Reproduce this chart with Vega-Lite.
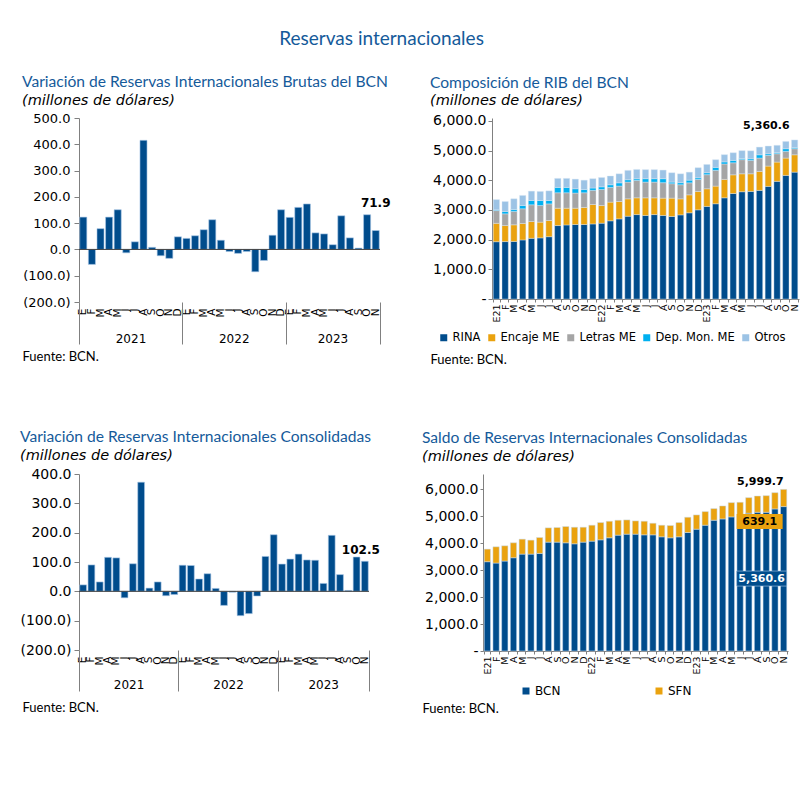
{
 "$schema": "https://vega.github.io/schema/vega-lite/v6.json",
 "background": "white",
 "padding": {"left": 19, "top": 29, "right": 5, "bottom": 5},
 "title": {"text": "Reservas internacionales", "anchor": "middle", "fontSize": 19, "offset": 26, "dx": -28, "color": "#155A9A", "font": "Lato", "fontWeight": "normal"},
 "config": {
  "view": {"stroke": null},
  "axis": {"grid": false, "domainColor": "#808080", "tickColor": "#808080", "labelColor": "#000000", "labelFont": "DejaVu Sans"},
  "legend": {"labelFont": "DejaVu Sans", "labelColor": "#000000"},
  "title": {"font": "Lato", "color": "#155A9A", "fontWeight": "normal", "anchor": "start", "fontSize": 15.6, "subtitleFont": "DejaVu Sans", "subtitleFontStyle": "italic", "subtitleColor": "#000000", "subtitleFontSize": 14.5, "subtitlePadding": 3, "offset": 10},
  "text": {"font": "DejaVu Sans"}
 },
 "datasets": {
  "brutas": [
   {"mes":"2021-01","valor":123},{"mes":"2021-02","valor":-57},{"mes":"2021-03","valor":79},{"mes":"2021-04","valor":123},{"mes":"2021-05","valor":151},{"mes":"2021-06","valor":-13},{"mes":"2021-07","valor":29},{"mes":"2021-08","valor":415},{"mes":"2021-09","valor":8},{"mes":"2021-10","valor":-24},{"mes":"2021-11","valor":-34},{"mes":"2021-12","valor":48},
   {"mes":"2022-01","valor":42},{"mes":"2022-02","valor":52},{"mes":"2022-03","valor":75},{"mes":"2022-04","valor":113},{"mes":"2022-05","valor":35},{"mes":"2022-06","valor":-8},{"mes":"2022-07","valor":-15},{"mes":"2022-08","valor":-8},{"mes":"2022-09","valor":-85},{"mes":"2022-10","valor":-42},{"mes":"2022-11","valor":54},{"mes":"2022-12","valor":151},
   {"mes":"2023-01","valor":122},{"mes":"2023-02","valor":160},{"mes":"2023-03","valor":173},{"mes":"2023-04","valor":63},{"mes":"2023-05","valor":59},{"mes":"2023-06","valor":18},{"mes":"2023-07","valor":128},{"mes":"2023-08","valor":44},{"mes":"2023-09","valor":5},{"mes":"2023-10","valor":132},{"mes":"2023-11","valor":71.9}
  ],
  "consolidadas": [
   {"mes":"2021-01","valor":22},{"mes":"2021-02","valor":90},{"mes":"2021-03","valor":32},{"mes":"2021-04","valor":116},{"mes":"2021-05","valor":114},{"mes":"2021-06","valor":-22},{"mes":"2021-07","valor":94},{"mes":"2021-08","valor":372},{"mes":"2021-09","valor":11},{"mes":"2021-10","valor":32},{"mes":"2021-11","valor":-15},{"mes":"2021-12","valor":-11},
   {"mes":"2022-01","valor":89},{"mes":"2022-02","valor":88},{"mes":"2022-03","valor":42},{"mes":"2022-04","valor":60},{"mes":"2022-05","valor":10},{"mes":"2022-06","valor":-48},{"mes":"2022-07","valor":-3},{"mes":"2022-08","valor":-83},{"mes":"2022-09","valor":-76},{"mes":"2022-10","valor":-16},{"mes":"2022-11","valor":119},{"mes":"2022-12","valor":193},
   {"mes":"2023-01","valor":93},{"mes":"2023-02","valor":110},{"mes":"2023-03","valor":127},{"mes":"2023-04","valor":107},{"mes":"2023-05","valor":106},{"mes":"2023-06","valor":27},{"mes":"2023-07","valor":191},{"mes":"2023-08","valor":57},{"mes":"2023-09","valor":3},{"mes":"2023-10","valor":117},{"mes":"2023-11","valor":102.5}
  ],
  "rib": [
   {"mes":"2021-01","componente":"RINA","valor":1930,"orden":1},{"mes":"2021-01","componente":"Encaje ME","valor":620,"orden":2},{"mes":"2021-01","componente":"Letras ME","valor":430,"orden":3},{"mes":"2021-01","componente":"Dep. Mon. ME","valor":25,"orden":4},{"mes":"2021-01","componente":"Otros","valor":345,"orden":5},
   {"mes":"2021-02","componente":"RINA","valor":1935,"orden":1},{"mes":"2021-02","componente":"Encaje ME","valor":540,"orden":2},{"mes":"2021-02","componente":"Letras ME","valor":395,"orden":3},{"mes":"2021-02","componente":"Dep. Mon. ME","valor":80,"orden":4},{"mes":"2021-02","componente":"Otros","valor":335,"orden":5},
   {"mes":"2021-03","componente":"RINA","valor":1940,"orden":1},{"mes":"2021-03","componente":"Encaje ME","valor":560,"orden":2},{"mes":"2021-03","componente":"Letras ME","valor":450,"orden":3},{"mes":"2021-03","componente":"Dep. Mon. ME","valor":65,"orden":4},{"mes":"2021-03","componente":"Otros","valor":360,"orden":5},
   {"mes":"2021-04","componente":"RINA","valor":1990,"orden":1},{"mes":"2021-04","componente":"Encaje ME","valor":555,"orden":2},{"mes":"2021-04","componente":"Letras ME","valor":495,"orden":3},{"mes":"2021-04","componente":"Dep. Mon. ME","valor":110,"orden":4},{"mes":"2021-04","componente":"Otros","valor":340,"orden":5},
   {"mes":"2021-05","componente":"RINA","valor":2045,"orden":1},{"mes":"2021-05","componente":"Encaje ME","valor":565,"orden":2},{"mes":"2021-05","componente":"Letras ME","valor":565,"orden":3},{"mes":"2021-05","componente":"Dep. Mon. ME","valor":145,"orden":4},{"mes":"2021-05","componente":"Otros","valor":315,"orden":5},
   {"mes":"2021-06","componente":"RINA","valor":2060,"orden":1},{"mes":"2021-06","componente":"Encaje ME","valor":530,"orden":2},{"mes":"2021-06","componente":"Letras ME","valor":560,"orden":3},{"mes":"2021-06","componente":"Dep. Mon. ME","valor":170,"orden":4},{"mes":"2021-06","componente":"Otros","valor":305,"orden":5},
   {"mes":"2021-07","componente":"RINA","valor":2100,"orden":1},{"mes":"2021-07","componente":"Encaje ME","valor":545,"orden":2},{"mes":"2021-07","componente":"Letras ME","valor":560,"orden":3},{"mes":"2021-07","componente":"Dep. Mon. ME","valor":115,"orden":4},{"mes":"2021-07","componente":"Otros","valor":325,"orden":5},
   {"mes":"2021-08","componente":"RINA","valor":2475,"orden":1},{"mes":"2021-08","componente":"Encaje ME","valor":585,"orden":2},{"mes":"2021-08","componente":"Letras ME","valor":520,"orden":3},{"mes":"2021-08","componente":"Dep. Mon. ME","valor":180,"orden":4},{"mes":"2021-08","componente":"Otros","valor":305,"orden":5},
   {"mes":"2021-09","componente":"RINA","valor":2495,"orden":1},{"mes":"2021-09","componente":"Encaje ME","valor":565,"orden":2},{"mes":"2021-09","componente":"Letras ME","valor":520,"orden":3},{"mes":"2021-09","componente":"Dep. Mon. ME","valor":180,"orden":4},{"mes":"2021-09","componente":"Otros","valor":305,"orden":5},
   {"mes":"2021-10","componente":"RINA","valor":2510,"orden":1},{"mes":"2021-10","componente":"Encaje ME","valor":550,"orden":2},{"mes":"2021-10","componente":"Letras ME","valor":510,"orden":3},{"mes":"2021-10","componente":"Dep. Mon. ME","valor":145,"orden":4},{"mes":"2021-10","componente":"Otros","valor":325,"orden":5},
   {"mes":"2021-11","componente":"RINA","valor":2510,"orden":1},{"mes":"2021-11","componente":"Encaje ME","valor":575,"orden":2},{"mes":"2021-11","componente":"Letras ME","valor":495,"orden":3},{"mes":"2021-11","componente":"Dep. Mon. ME","valor":110,"orden":4},{"mes":"2021-11","componente":"Otros","valor":315,"orden":5},
   {"mes":"2021-12","componente":"RINA","valor":2530,"orden":1},{"mes":"2021-12","componente":"Encaje ME","valor":655,"orden":2},{"mes":"2021-12","componente":"Letras ME","valor":475,"orden":3},{"mes":"2021-12","componente":"Dep. Mon. ME","valor":80,"orden":4},{"mes":"2021-12","componente":"Otros","valor":315,"orden":5},
   {"mes":"2022-01","componente":"RINA","valor":2555,"orden":1},{"mes":"2022-01","componente":"Encaje ME","valor":595,"orden":2},{"mes":"2022-01","componente":"Letras ME","valor":540,"orden":3},{"mes":"2022-01","componente":"Dep. Mon. ME","valor":90,"orden":4},{"mes":"2022-01","componente":"Otros","valor":315,"orden":5},
   {"mes":"2022-02","componente":"RINA","valor":2635,"orden":1},{"mes":"2022-02","componente":"Encaje ME","valor":630,"orden":2},{"mes":"2022-02","componente":"Letras ME","valor":495,"orden":3},{"mes":"2022-02","componente":"Dep. Mon. ME","valor":90,"orden":4},{"mes":"2022-02","componente":"Otros","valor":295,"orden":5},
   {"mes":"2022-03","componente":"RINA","valor":2700,"orden":1},{"mes":"2022-03","componente":"Encaje ME","valor":585,"orden":2},{"mes":"2022-03","componente":"Letras ME","valor":520,"orden":3},{"mes":"2022-03","componente":"Dep. Mon. ME","valor":110,"orden":4},{"mes":"2022-03","componente":"Otros","valor":305,"orden":5},
   {"mes":"2022-04","componente":"RINA","valor":2790,"orden":1},{"mes":"2022-04","componente":"Encaje ME","valor":585,"orden":2},{"mes":"2022-04","componente":"Letras ME","valor":565,"orden":3},{"mes":"2022-04","componente":"Dep. Mon. ME","valor":80,"orden":4},{"mes":"2022-04","componente":"Otros","valor":315,"orden":5},
   {"mes":"2022-05","componente":"RINA","valor":2845,"orden":1},{"mes":"2022-05","componente":"Encaje ME","valor":565,"orden":2},{"mes":"2022-05","componente":"Letras ME","valor":585,"orden":3},{"mes":"2022-05","componente":"Dep. Mon. ME","valor":55,"orden":4},{"mes":"2022-05","componente":"Otros","valor":315,"orden":5},
   {"mes":"2022-06","componente":"RINA","valor":2815,"orden":1},{"mes":"2022-06","componente":"Encaje ME","valor":595,"orden":2},{"mes":"2022-06","componente":"Letras ME","valor":530,"orden":3},{"mes":"2022-06","componente":"Dep. Mon. ME","valor":115,"orden":4},{"mes":"2022-06","componente":"Otros","valor":305,"orden":5},
   {"mes":"2022-07","componente":"RINA","valor":2845,"orden":1},{"mes":"2022-07","componente":"Encaje ME","valor":565,"orden":2},{"mes":"2022-07","componente":"Letras ME","valor":530,"orden":3},{"mes":"2022-07","componente":"Dep. Mon. ME","valor":115,"orden":4},{"mes":"2022-07","componente":"Otros","valor":305,"orden":5},
   {"mes":"2022-08","componente":"RINA","valor":2815,"orden":1},{"mes":"2022-08","componente":"Encaje ME","valor":585,"orden":2},{"mes":"2022-08","componente":"Letras ME","valor":520,"orden":3},{"mes":"2022-08","componente":"Dep. Mon. ME","valor":135,"orden":4},{"mes":"2022-08","componente":"Otros","valor":290,"orden":5},
   {"mes":"2022-09","componente":"RINA","valor":2780,"orden":1},{"mes":"2022-09","componente":"Encaje ME","valor":620,"orden":2},{"mes":"2022-09","componente":"Letras ME","valor":485,"orden":3},{"mes":"2022-09","componente":"Dep. Mon. ME","valor":55,"orden":4},{"mes":"2022-09","componente":"Otros","valor":315,"orden":5},
   {"mes":"2022-10","componente":"RINA","valor":2835,"orden":1},{"mes":"2022-10","componente":"Encaje ME","valor":540,"orden":2},{"mes":"2022-10","componente":"Letras ME","valor":475,"orden":3},{"mes":"2022-10","componente":"Dep. Mon. ME","valor":70,"orden":4},{"mes":"2022-10","componente":"Otros","valor":300,"orden":5},
   {"mes":"2022-11","componente":"RINA","valor":2905,"orden":1},{"mes":"2022-11","componente":"Encaje ME","valor":605,"orden":2},{"mes":"2022-11","componente":"Letras ME","valor":405,"orden":3},{"mes":"2022-11","componente":"Dep. Mon. ME","valor":90,"orden":4},{"mes":"2022-11","componente":"Otros","valor":270,"orden":5},
   {"mes":"2022-12","componente":"RINA","valor":3005,"orden":1},{"mes":"2022-12","componente":"Encaje ME","valor":620,"orden":2},{"mes":"2022-12","componente":"Letras ME","valor":405,"orden":3},{"mes":"2022-12","componente":"Dep. Mon. ME","valor":55,"orden":4},{"mes":"2022-12","componente":"Otros","valor":340,"orden":5},
   {"mes":"2023-01","componente":"RINA","valor":3120,"orden":1},{"mes":"2023-01","componente":"Encaje ME","valor":595,"orden":2},{"mes":"2023-01","componente":"Letras ME","valor":475,"orden":3},{"mes":"2023-01","componente":"Dep. Mon. ME","valor":65,"orden":4},{"mes":"2023-01","componente":"Otros","valor":280,"orden":5},
   {"mes":"2023-02","componente":"RINA","valor":3210,"orden":1},{"mes":"2023-02","componente":"Encaje ME","valor":595,"orden":2},{"mes":"2023-02","componente":"Letras ME","valor":530,"orden":3},{"mes":"2023-02","componente":"Dep. Mon. ME","valor":100,"orden":4},{"mes":"2023-02","componente":"Otros","valor":260,"orden":5},
   {"mes":"2023-03","componente":"RINA","valor":3410,"orden":1},{"mes":"2023-03","componente":"Encaje ME","valor":620,"orden":2},{"mes":"2023-03","componente":"Letras ME","valor":520,"orden":3},{"mes":"2023-03","componente":"Dep. Mon. ME","valor":70,"orden":4},{"mes":"2023-03","componente":"Otros","valor":245,"orden":5},
   {"mes":"2023-04","componente":"RINA","valor":3555,"orden":1},{"mes":"2023-04","componente":"Encaje ME","valor":630,"orden":2},{"mes":"2023-04","componente":"Letras ME","valor":405,"orden":3},{"mes":"2023-04","componente":"Dep. Mon. ME","valor":80,"orden":4},{"mes":"2023-04","componente":"Otros","valor":260,"orden":5},
   {"mes":"2023-05","componente":"RINA","valor":3615,"orden":1},{"mes":"2023-05","componente":"Encaje ME","valor":605,"orden":2},{"mes":"2023-05","componente":"Letras ME","valor":475,"orden":3},{"mes":"2023-05","componente":"Dep. Mon. ME","valor":35,"orden":4},{"mes":"2023-05","componente":"Otros","valor":270,"orden":5},
   {"mes":"2023-06","componente":"RINA","valor":3625,"orden":1},{"mes":"2023-06","componente":"Encaje ME","valor":595,"orden":2},{"mes":"2023-06","componente":"Letras ME","valor":450,"orden":3},{"mes":"2023-06","componente":"Dep. Mon. ME","valor":55,"orden":4},{"mes":"2023-06","componente":"Otros","valor":270,"orden":5},
   {"mes":"2023-07","componente":"RINA","valor":3660,"orden":1},{"mes":"2023-07","componente":"Encaje ME","valor":640,"orden":2},{"mes":"2023-07","componente":"Letras ME","valor":450,"orden":3},{"mes":"2023-07","componente":"Dep. Mon. ME","valor":110,"orden":4},{"mes":"2023-07","componente":"Otros","valor":260,"orden":5},
   {"mes":"2023-08","componente":"RINA","valor":3795,"orden":1},{"mes":"2023-08","componente":"Encaje ME","valor":685,"orden":2},{"mes":"2023-08","componente":"Letras ME","valor":360,"orden":3},{"mes":"2023-08","componente":"Dep. Mon. ME","valor":55,"orden":4},{"mes":"2023-08","componente":"Otros","valor":260,"orden":5},
   {"mes":"2023-09","componente":"RINA","valor":3965,"orden":1},{"mes":"2023-09","componente":"Encaje ME","valor":650,"orden":2},{"mes":"2023-09","componente":"Letras ME","valor":280,"orden":3},{"mes":"2023-09","componente":"Dep. Mon. ME","valor":35,"orden":4},{"mes":"2023-09","componente":"Otros","valor":250,"orden":5},
   {"mes":"2023-10","componente":"RINA","valor":4165,"orden":1},{"mes":"2023-10","componente":"Encaje ME","valor":585,"orden":2},{"mes":"2023-10","componente":"Letras ME","valor":225,"orden":3},{"mes":"2023-10","componente":"Dep. Mon. ME","valor":90,"orden":4},{"mes":"2023-10","componente":"Otros","valor":245,"orden":5},
   {"mes":"2023-11","componente":"RINA","valor":4275,"orden":1},{"mes":"2023-11","componente":"Encaje ME","valor":585,"orden":2},{"mes":"2023-11","componente":"Letras ME","valor":205,"orden":3},{"mes":"2023-11","componente":"Dep. Mon. ME","valor":35,"orden":4},{"mes":"2023-11","componente":"Otros","valor":260.6,"orden":5}
  ],
  "saldo": [
   {"mes":"2021-01","serie":"BCN","valor":3314},{"mes":"2021-01","serie":"SFN","valor":468},
   {"mes":"2021-02","serie":"BCN","valor":3265},{"mes":"2021-02","serie":"SFN","valor":603},
   {"mes":"2021-03","serie":"BCN","valor":3339},{"mes":"2021-03","serie":"SFN","valor":566},
   {"mes":"2021-04","serie":"BCN","valor":3462},{"mes":"2021-04","serie":"SFN","valor":554},
   {"mes":"2021-05","serie":"BCN","valor":3597},{"mes":"2021-05","serie":"SFN","valor":555},
   {"mes":"2021-06","serie":"BCN","valor":3597},{"mes":"2021-06","serie":"SFN","valor":518},
   {"mes":"2021-07","serie":"BCN","valor":3622},{"mes":"2021-07","serie":"SFN","valor":591},
   {"mes":"2021-08","serie":"BCN","valor":4041},{"mes":"2021-08","serie":"SFN","valor":530},
   {"mes":"2021-09","serie":"BCN","valor":4041},{"mes":"2021-09","serie":"SFN","valor":542},
   {"mes":"2021-10","serie":"BCN","valor":4016},{"mes":"2021-10","serie":"SFN","valor":604},
   {"mes":"2021-11","serie":"BCN","valor":3979},{"mes":"2021-11","serie":"SFN","valor":616},
   {"mes":"2021-12","serie":"BCN","valor":4041},{"mes":"2021-12","serie":"SFN","valor":554},
   {"mes":"2022-01","serie":"BCN","valor":4078},{"mes":"2022-01","serie":"SFN","valor":591},
   {"mes":"2022-02","serie":"BCN","valor":4127},{"mes":"2022-02","serie":"SFN","valor":641},
   {"mes":"2022-03","serie":"BCN","valor":4201},{"mes":"2022-03","serie":"SFN","valor":616},
   {"mes":"2022-04","serie":"BCN","valor":4300},{"mes":"2022-04","serie":"SFN","valor":554},
   {"mes":"2022-05","serie":"BCN","valor":4337},{"mes":"2022-05","serie":"SFN","valor":529},
   {"mes":"2022-06","serie":"BCN","valor":4337},{"mes":"2022-06","serie":"SFN","valor":492},
   {"mes":"2022-07","serie":"BCN","valor":4312},{"mes":"2022-07","serie":"SFN","valor":505},
   {"mes":"2022-08","serie":"BCN","valor":4312},{"mes":"2022-08","serie":"SFN","valor":431},
   {"mes":"2022-09","serie":"BCN","valor":4238},{"mes":"2022-09","serie":"SFN","valor":431},
   {"mes":"2022-10","serie":"BCN","valor":4201},{"mes":"2022-10","serie":"SFN","valor":456},
   {"mes":"2022-11","serie":"BCN","valor":4238},{"mes":"2022-11","serie":"SFN","valor":530},
   {"mes":"2022-12","serie":"BCN","valor":4398},{"mes":"2022-12","serie":"SFN","valor":567},
   {"mes":"2023-01","serie":"BCN","valor":4521},{"mes":"2023-01","serie":"SFN","valor":530},
   {"mes":"2023-02","serie":"BCN","valor":4669},{"mes":"2023-02","serie":"SFN","valor":505},
   {"mes":"2023-03","serie":"BCN","valor":4854},{"mes":"2023-03","serie":"SFN","valor":431},
   {"mes":"2023-04","serie":"BCN","valor":4903},{"mes":"2023-04","serie":"SFN","valor":481},
   {"mes":"2023-05","serie":"BCN","valor":4977},{"mes":"2023-05","serie":"SFN","valor":530},
   {"mes":"2023-06","serie":"BCN","valor":4998},{"mes":"2023-06","serie":"SFN","valor":521},
   {"mes":"2023-07","serie":"BCN","valor":5113},{"mes":"2023-07","serie":"SFN","valor":579},
   {"mes":"2023-08","serie":"BCN","valor":5150},{"mes":"2023-08","serie":"SFN","valor":603},
   {"mes":"2023-09","serie":"BCN","valor":5150},{"mes":"2023-09","serie":"SFN","valor":616},
   {"mes":"2023-10","serie":"BCN","valor":5273},{"mes":"2023-10","serie":"SFN","valor":604},
   {"mes":"2023-11","serie":"BCN","valor":5360.6},{"mes":"2023-11","serie":"SFN","valor":639.1}
  ]
 },
 "bounds": "flush",
 "spacing": 356,
 "resolve": {"scale": {"color": "independent"}, "legend": {"color": "independent"}},
 "vconcat": [
  {
   "bounds": "flush",
   "spacing": 112,
   "resolve": {"scale": {"color": "independent"}, "legend": {"color": "independent"}},
   "hconcat": [
    {
     "title": {"text": "Variación de Reservas Internacionales Brutas del BCN", "subtitle": "(millones de dólares)", "offset": 5},
     "width": 301,
     "height": 184,
     "data": {"name": "brutas"},
     "layer": [
      {
       "layer": [
        {
         "mark": {"type": "bar", "color": "#004C8C", "stroke": "#A9C8E8", "strokeWidth": 0.6},
         "encoding": {
          "x": {"field": "mes", "type": "ordinal", "title": null, "scale": {"paddingInner": 0.18, "paddingOuter": 0.09},
                "axis": {"labelExpr": "['E','F','M','A','M','J','J','A','S','O','N','D'][toNumber(substring(datum.value,5,7))-1]", "labelAngle": 270, "labelFontSize": 10.5, "labelPadding": 6, "ticks": false, "domain": false, "labelOverlap": false}},
          "y": {"field": "valor", "type": "quantitative", "title": null, "scale": {"domain": [-200, 500], "nice": false},
                "axis": {"values": [-200, -100, 0, 100, 200, 300, 400, 500], "tickCount": 20, "labelExpr": "datum.value < 0 ? format(datum.value, '(,.1f') : format(datum.value, ',.1f') + '\u00a0'", "labelFontSize": 13, "tickSize": 5, "labelPadding": 4, "labelOverlap": false}}
         }
        },
        {
         "data": {"values": [{}]},
         "mark": {"type": "rule", "color": "#404040", "strokeWidth": 1},
         "encoding": {"y": {"datum": 0}}
        },
        {
         "transform": [{"filter": "datum.mes == '2023-11'"}],
         "mark": {"type": "text", "dy": -28, "fontWeight": "bold", "fontSize": 12, "baseline": "middle"},
         "encoding": {
          "x": {"field": "mes", "type": "ordinal"},
          "y": {"field": "valor", "type": "quantitative", "title": null},
          "text": {"field": "valor", "type": "quantitative", "format": ",.1f"}
         }
        }
       ]
      },
      {
       "data": {"values": [{"fecha": "2021-01-01"}, {"fecha": "2023-12-01"}]},
       "mark": {"type": "point", "opacity": 0},
       "encoding": {
        "x": {"field": "fecha", "type": "temporal", "title": "Fuente: BCN.",
              "scale": {"domain": [{"year": 2021, "month": 1, "date": 1, "utc": true}, {"year": 2023, "month": 12, "date": 1, "utc": true}], "nice": false},
              "axis": {"orient": "bottom", "tickCount": 20,
                       "values": [{"year": 2021, "month": 1, "date": 1, "utc": true}, {"year": 2021, "month": 7, "date": 2, "utc": true}, {"year": 2022, "month": 1, "date": 1, "utc": true}, {"year": 2022, "month": 7, "date": 2, "utc": true}, {"year": 2023, "month": 1, "date": 1, "utc": true}, {"year": 2023, "month": 6, "date": 16, "utc": true}, {"year": 2023, "month": 12, "date": 1, "utc": true}],
                       "labelExpr": "(utcmonth(datum.value) == 0 || utcmonth(datum.value) == 11) ? '' : utcFormat(datum.value, '%Y')",
                       "tickSize": 42,
                       "tickOpacity": {"condition": {"test": "utcmonth(datum.value) == 0 || utcmonth(datum.value) == 11", "value": 1}, "value": 0},
                       "domain": false, "labelPadding": -11, "labelFontSize": 12, "labelOverlap": false, "labelFlush": false, "labelBound": false,
                       "titleX": -57, "titleY": 54, "titleAlign": "left", "titleBaseline": "middle", "titleFont": "Lato", "titleFontSize": 13, "titleFontWeight": "normal", "titleColor": "#000000"}}
       }
      }
     ],
     "resolve": {"scale": {"x": "independent"}, "axis": {"x": "independent"}}
    },
    {
     "title": {"text": "Composición de RIB del BCN", "subtitle": "(millones de dólares)", "offset": 6},
     "width": 307,
     "height": 181,
     "data": {"name": "rib"},
     "layer": [
      {
       "mark": {"type": "bar", "stroke": "#DCE8F4", "strokeWidth": 0.4},
       "encoding": {
        "x": {"field": "mes", "type": "ordinal", "title": "Fuente: BCN.", "scale": {"paddingInner": 0.28, "paddingOuter": 0.14},
              "axis": {"labelExpr": "substring(datum.value,5,7) == '01' ? 'E' + substring(datum.value,2,4) : ['E','F','M','A','M','J','J','A','S','O','N','D'][toNumber(substring(datum.value,5,7))-1]",
                       "labelAngle": 270, "labelFontSize": 9.5, "labelPadding": 2, "tickBand": "extent", "tickSize": 3, "labelOverlap": false,
                       "titleX": -62, "titleY": 60, "titleAlign": "left", "titleBaseline": "middle", "titleFont": "Lato", "titleFontSize": 13, "titleFontWeight": "normal", "titleColor": "#000000"}},
        "y": {"field": "valor", "type": "quantitative", "title": null, "scale": {"domain": [0, 6100], "nice": false},
              "axis": {"values": [0, 1000, 2000, 3000, 4000, 5000, 6000], "tickCount": 20, "labelExpr": "datum.value == 0 ? '-\u00a0\u00a0\u00a0\u00a0' : format(datum.value, ',.1f')", "labelFontSize": 14, "tickSize": 4, "labelPadding": 2, "labelOverlap": false}},
        "color": {"field": "componente", "type": "nominal",
                  "scale": {"domain": ["RINA", "Encaje ME", "Letras ME", "Dep. Mon. ME", "Otros"], "range": ["#004C8C", "#EAA20E", "#A5A5A5", "#00B0F0", "#9CC3E5"]},
                  "legend": {"orient": "none", "legendX": -54, "legendY": 214, "direction": "horizontal", "gridAlign": "none", "title": null, "symbolType": "square", "symbolSize": 49, "symbolStrokeWidth": 0, "labelFontSize": 11.5, "columnPadding": 5, "labelOffset": 3, "padding": 0}},
        "order": {"field": "orden", "type": "quantitative"}
       }
      },
      {
       "transform": [{"filter": "datum.mes == '2023-11'"}],
       "mark": {"type": "text", "dy": -14, "dx": -5, "align": "right", "baseline": "middle", "fontWeight": "bold", "fontSize": 11},
       "encoding": {
        "x": {"field": "mes", "type": "ordinal"},
        "y": {"aggregate": "sum", "field": "valor", "type": "quantitative", "title": null},
        "text": {"aggregate": "sum", "field": "valor", "type": "quantitative", "format": ",.1f"}
       }
      }
     ]
    }
   ]
  },
  {
   "bounds": "flush",
   "spacing": 114,
   "resolve": {"scale": {"color": "independent"}, "legend": {"color": "independent"}},
   "hconcat": [
    {
     "title": {"text": "Variación de Reservas Internacionales Consolidadas", "subtitle": "(millones de dólares)", "offset": 5},
     "width": 290,
     "height": 176,
     "data": {"name": "consolidadas"},
     "layer": [
      {
       "layer": [
        {
         "mark": {"type": "bar", "color": "#004C8C", "stroke": "#A9C8E8", "strokeWidth": 0.6},
         "encoding": {
          "x": {"field": "mes", "type": "ordinal", "title": null, "scale": {"paddingInner": 0.18, "paddingOuter": 0.09},
                "axis": {"labelExpr": "['E','F','M','A','M','J','J','A','S','O','N','D'][toNumber(substring(datum.value,5,7))-1]", "labelAngle": 270, "labelFontSize": 10.5, "labelPadding": 6, "ticks": false, "domain": false, "labelOverlap": false}},
          "y": {"field": "valor", "type": "quantitative", "title": null, "scale": {"domain": [-200, 400], "nice": false},
                "axis": {"values": [-200, -100, 0, 100, 200, 300, 400], "tickCount": 20, "labelExpr": "datum.value < 0 ? format(datum.value, '(,.1f') : format(datum.value, ',.1f') + '\u00a0'", "labelFontSize": 14, "tickSize": 5, "labelPadding": 3, "labelOverlap": false}}
         }
        },
        {
         "data": {"values": [{}]},
         "mark": {"type": "rule", "color": "#404040", "strokeWidth": 1},
         "encoding": {"y": {"datum": 0}}
        },
        {
         "transform": [{"filter": "datum.mes == '2023-11'"}],
         "mark": {"type": "text", "dy": -11, "dx": -4, "fontWeight": "bold", "fontSize": 12, "baseline": "middle"},
         "encoding": {
          "x": {"field": "mes", "type": "ordinal"},
          "y": {"field": "valor", "type": "quantitative", "title": null},
          "text": {"field": "valor", "type": "quantitative", "format": ",.1f"}
         }
        }
       ]
      },
      {
       "data": {"values": [{"fecha": "2021-01-01"}, {"fecha": "2023-12-01"}]},
       "mark": {"type": "point", "opacity": 0},
       "encoding": {
        "x": {"field": "fecha", "type": "temporal", "title": "Fuente: BCN.",
              "scale": {"domain": [{"year": 2021, "month": 1, "date": 1, "utc": true}, {"year": 2023, "month": 12, "date": 1, "utc": true}], "nice": false},
              "axis": {"orient": "bottom", "tickCount": 20,
                       "values": [{"year": 2021, "month": 1, "date": 1, "utc": true}, {"year": 2021, "month": 7, "date": 2, "utc": true}, {"year": 2022, "month": 1, "date": 1, "utc": true}, {"year": 2022, "month": 7, "date": 2, "utc": true}, {"year": 2023, "month": 1, "date": 1, "utc": true}, {"year": 2023, "month": 6, "date": 16, "utc": true}, {"year": 2023, "month": 12, "date": 1, "utc": true}],
                       "labelExpr": "(utcmonth(datum.value) == 0 || utcmonth(datum.value) == 11) ? '' : utcFormat(datum.value, '%Y')",
                       "tickSize": 41,
                       "tickOpacity": {"condition": {"test": "utcmonth(datum.value) == 0 || utcmonth(datum.value) == 11", "value": 1}, "value": 0},
                       "domain": false, "labelPadding": -12, "labelFontSize": 12, "labelOverlap": false, "labelFlush": false, "labelBound": false,
                       "titleX": -57, "titleY": 57, "titleAlign": "left", "titleBaseline": "middle", "titleFont": "Lato", "titleFontSize": 13, "titleFontWeight": "normal", "titleColor": "#000000"}}
       }
      }
     ],
     "resolve": {"scale": {"x": "independent"}, "axis": {"x": "independent"}}
    },
    {
     "title": {"text": "Saldo de Reservas Internacionales Consolidadas", "subtitle": "(millones de dólares)", "offset": 11},
     "width": 305,
     "height": 177,
     "data": {"name": "saldo"},
     "layer": [
      {
       "mark": {"type": "bar", "stroke": "#C9DDF0", "strokeWidth": 0.5},
       "encoding": {
        "x": {"field": "mes", "type": "ordinal", "title": "Fuente: BCN.", "scale": {"paddingInner": 0.28, "paddingOuter": 0.14},
              "axis": {"labelExpr": "substring(datum.value,5,7) == '01' ? 'E' + substring(datum.value,2,4) : ['E','F','M','A','M','J','J','A','S','O','N','D'][toNumber(substring(datum.value,5,7))-1]",
                       "labelAngle": 270, "labelFontSize": 9.5, "labelPadding": 2, "tickBand": "extent", "tickSize": 3, "labelOverlap": false,
                       "titleX": -61, "titleY": 57, "titleAlign": "left", "titleBaseline": "middle", "titleFont": "Lato", "titleFontSize": 13, "titleFontWeight": "normal", "titleColor": "#000000"}},
        "y": {"field": "valor", "type": "quantitative", "title": null, "scale": {"domain": [0, 6570], "nice": false},
              "axis": {"values": [0, 1000, 2000, 3000, 4000, 5000, 6000], "tickCount": 20, "labelExpr": "datum.value == 0 ? '-\u00a0\u00a0\u00a0\u00a0' : format(datum.value, ',.1f')", "labelFontSize": 14, "tickSize": 3, "labelPadding": 2, "labelOverlap": false}},
        "color": {"field": "serie", "type": "nominal",
                  "scale": {"domain": ["BCN", "SFN"], "range": ["#004C8C", "#EAA20E"]},
                  "legend": {"orient": "none", "legendX": 37, "legendY": 211, "direction": "horizontal", "gridAlign": "none", "title": null, "symbolType": "square", "symbolSize": 49, "symbolStrokeWidth": 0, "labelFontSize": 12, "columnPadding": 92, "labelOffset": 3, "padding": 0}},
        "order": {"field": "serie", "type": "ordinal", "sort": "ascending"}
       }
      },
      {
       "transform": [{"filter": "datum.mes == '2023-11'"}],
       "mark": {"type": "text", "dy": -7, "align": "right", "baseline": "middle", "fontWeight": "bold", "fontSize": 11},
       "encoding": {
        "x": {"field": "mes", "type": "ordinal"},
        "y": {"aggregate": "sum", "field": "valor", "type": "quantitative", "title": null},
        "text": {"aggregate": "sum", "field": "valor", "type": "quantitative", "format": ",.1f"}
       }
      },
      {
       "transform": [{"filter": "datum.mes == '2023-11'"}, {"pivot": "serie", "value": "valor", "groupby": ["mes"]}],
       "layer": [
        {
         "mark": {"type": "point", "shape": "M-1,-0.326H1V0.326H-1Z", "size": 2116, "filled": true, "fill": "#EAA20E", "strokeWidth": 0, "opacity": 1, "xOffset": -24, "yOffset": 15},
         "encoding": {"x": {"field": "mes", "type": "ordinal"}, "y": {"field": "BCN", "type": "quantitative", "title": null}}
        },
        {
         "mark": {"type": "text", "dx": -24, "dy": 15, "baseline": "middle", "fontWeight": "bold", "fontSize": 11, "color": "#000000"},
         "encoding": {"x": {"field": "mes", "type": "ordinal"}, "y": {"field": "BCN", "type": "quantitative", "title": null}, "text": {"field": "SFN", "type": "quantitative", "format": ",.1f"}}
        },
        {
         "mark": {"type": "point", "shape": "M-1,-0.3H1V0.3H-1Z", "size": 2500, "filled": true, "fill": "#004C8C", "stroke": "#A9C8E8", "strokeWidth": 0.6, "opacity": 1, "xOffset": -22, "yOffset": 72},
         "encoding": {"x": {"field": "mes", "type": "ordinal"}, "y": {"field": "BCN", "type": "quantitative", "title": null}}
        },
        {
         "mark": {"type": "text", "dx": -22, "dy": 72, "baseline": "middle", "fontWeight": "bold", "fontSize": 11, "color": "#FFFFFF"},
         "encoding": {"x": {"field": "mes", "type": "ordinal"}, "y": {"field": "BCN", "type": "quantitative", "title": null}, "text": {"field": "BCN", "type": "quantitative", "format": ",.1f"}}
        }
       ]
      }
     ]
    }
   ]
  }
 ]
}
